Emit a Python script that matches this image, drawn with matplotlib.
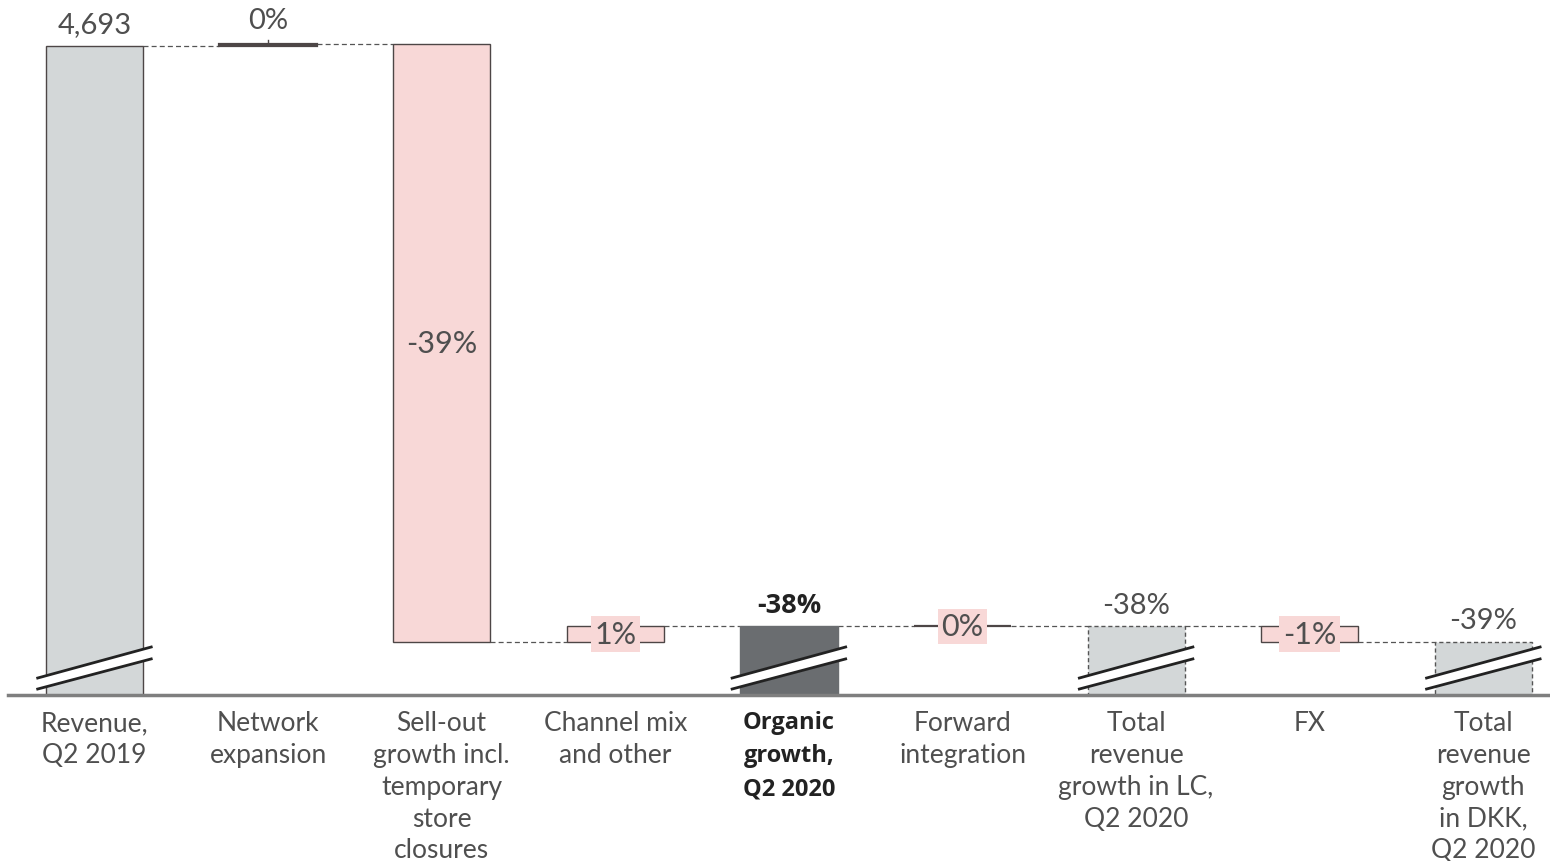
import matplotlib
matplotlib.use("Agg")
import matplotlib.pyplot as plt
from matplotlib.patches import Polygon

# Revenue bridge Q2 2019 -> Q2 2020, index Q2 2019 = 100
categories = ["Revenue,\nQ2 2019", "Network\nexpansion",
              "Sell-out\ngrowth incl.\ntemporary\nstore\nclosures",
              "Channel mix\nand other", "Organic\ngrowth,\nQ2 2020",
              "Forward\nintegration", "Total\nrevenue\ngrowth in LC,\nQ2 2020",
              "FX", "Total\nrevenue\ngrowth\nin DKK,\nQ2 2020"]
steps = [100.0, 0.1, -39.1, 1.0, None, 0.0, None, -1.0, None]
kinds = ["total", "step", "step", "step", "subtotal", "step", "subtotal", "step", "subtotal"]
value_labels = ["4,693", "0%", "-39%", "1%", "-38%", "0%", "-38%", "-1%", "-39%"]

GRAY = "#d3d7d8"
PINK = "#f8d8d7"
DARK = "#6a6d70"
EDGE = "#4d4646"
TXT = "#4f4f4f"

plt.rcParams["font.family"] = ["Lato", "DejaVu Sans"]

fig = plt.figure(figsize=(15.5, 8.62), dpi=100)
ax = fig.add_axes([8 / 1550, 0.1926, 1 - 8 / 1550, 0.8074])

y_min, y_max = 57.5, 103.05
width = 0.56
x = list(range(len(categories)))

# work out bar bottoms / tops
bottoms, tops, ends = [], [], []
level = 0.0
for k, s in zip(kinds, steps):
    if k == "total":
        level = s
        bottoms.append(0.0)
        tops.append(level)
    elif k == "subtotal":
        bottoms.append(0.0)
        tops.append(level)
    else:
        new = level + s
        bottoms.append(min(level, new))
        tops.append(max(level, new))
        level = new
    ends.append(level)

for i, k in enumerate(kinds):
    h = tops[i] - bottoms[i]
    if k == "total":
        ax.bar(i, h, width, bottom=bottoms[i], color=GRAY, edgecolor=EDGE, lw=1.0, zorder=2)
    elif k == "subtotal" and i == 4:
        ax.bar(i, h, width, bottom=bottoms[i], color=DARK, edgecolor=DARK, lw=1.0, zorder=2)
    elif k == "subtotal":
        ax.bar(i, h, width, bottom=bottoms[i], color=GRAY, edgecolor="#555555",
               lw=1.0, ls=(0, (3, 2)), zorder=2)
    else:
        ax.bar(i, h, width, bottom=bottoms[i], color=PINK, edgecolor=EDGE,
               lw=1.6 if h < 0.2 else 1.0, zorder=2)

# dashed connectors
for i in range(len(categories) - 1):
    ax.plot([i + width / 2, i + 1 - width / 2], [ends[i], ends[i]],
            color="#555555", lw=0.9, ls=(0, (4, 2.5)), zorder=1)

# axis break marks on total bars
half = 0.327
for i, k in enumerate(kinds):
    if k == "step":
        continue
    xl, xr = i - half, i + half
    lo_l, lo_r, up_l, up_r = 57.89, 59.86, 58.61, 60.64
    ax.add_patch(Polygon([[xl, lo_l], [xr, lo_r], [xr, up_r], [xl, up_l]],
                         closed=True, color="white", zorder=3))
    ax.plot([xl, xr], [lo_l, lo_r], color="#222222", lw=2.0, zorder=4)
    ax.plot([xl, xr], [up_l, up_r], color="#222222", lw=2.0, zorder=4)

# value labels
for i, k in enumerate(kinds):
    lab = value_labels[i]
    if k == "total" or k == "subtotal":
        if i == 4:
            ax.annotate(lab, (i, tops[i]), xytext=(0, 6), textcoords="offset points",
                        ha="center", va="bottom", fontsize=19.5, fontweight="bold",
                        family=["Open Sans", "DejaVu Sans"], color="#222222")
        else:
            ax.annotate(lab, (i, tops[i]), xytext=(0, 6), textcoords="offset points",
                        ha="center", va="bottom", fontsize=21, color=TXT)
    elif i == 1:
        ax.plot([i, i], [tops[i], tops[i] + 0.28], color=EDGE, lw=1.0)
        ax.annotate(lab, (i, tops[i]), xytext=(0, 8), textcoords="offset points",
                    ha="center", va="bottom", fontsize=21, color=TXT)
    elif i == 2:
        ax.text(i, (tops[i] + bottoms[i]) / 2, lab, ha="center", va="center",
                fontsize=22, color=TXT, zorder=5)
    else:
        ax.text(i, (tops[i] + bottoms[i]) / 2, lab, ha="center", va="center",
                fontsize=22, color=TXT, zorder=5,
                bbox=dict(boxstyle="square,pad=0.12", fc=PINK, ec="none"))

ax.set_xlim(-0.498, 8.384)
ax.set_ylim(y_min, y_max)
for s in ["top", "right", "left"]:
    ax.spines[s].set_visible(False)
ax.spines["bottom"].set_color("#7f7f7f")
ax.spines["bottom"].set_linewidth(2.5)
ax.set_yticks([])
ax.set_xticks(x)
ax.set_xticklabels(categories, fontsize=19, color=TXT, linespacing=1.34)
ax.tick_params(axis="x", length=0, pad=11)
for j, t in enumerate(ax.get_xticklabels()):
    if j == 4:
        t.set_fontweight("bold")
        t.set_family(["Open Sans", "DejaVu Sans"])
        t.set_color("#222222")
        t.set_fontsize(17)
        t.set_linespacing(1.5)

fig.savefig("out.png", dpi=100)
